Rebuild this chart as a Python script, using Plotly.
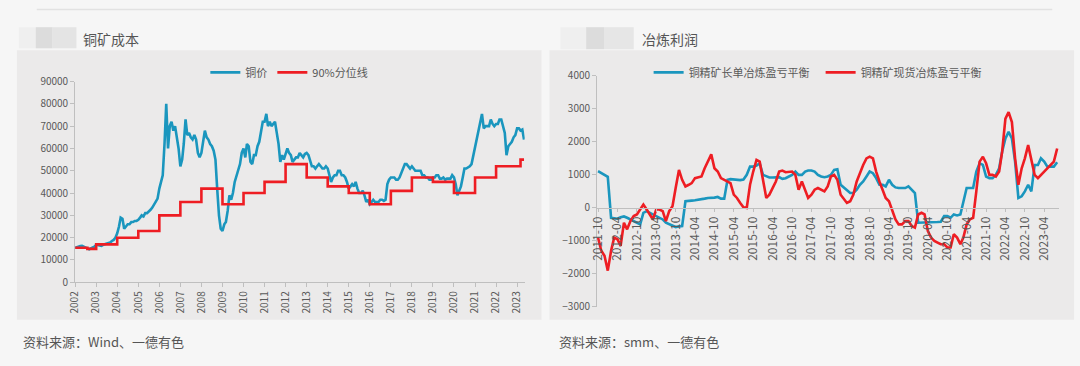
import pandas as pd
import plotly.graph_objects as go

# ---------------- data: left chart (铜矿成本) ----------------
copper_start = "2002-01-01"
copper_price = [
    15500, 15800, 16000, 16200, 16300, 16000, 15800, 15200, 14800, 15200, 15600, 16000,  # 2002
    16800, 16600, 16500, 16300, 16800, 17000, 17200, 17500, 17800, 18500, 19000, 20000,  # 2003
    22000, 25000, 29000, 28500, 24000, 25000, 26000, 26000, 27000, 27000, 27500, 27500,  # 2004
    28000, 29000, 30000, 29500, 31000, 31000, 32000, 32500, 33500, 35000, 36000, 37500,  # 2005
    42000, 46000, 48000, 62000, 80000, 60000, 70000, 72000, 68000, 70000, 65000, 60000,  # 2006
    52000, 55000, 62000, 73000, 66000, 67000, 65000, 64000, 66000, 64000, 58000, 56000,  # 2007
    58000, 63000, 68000, 65000, 64000, 62000, 61000, 59000, 55000, 42000, 30000, 24000,  # 2008
    23000, 26000, 27000, 32000, 39000, 37000, 40000, 45000, 48000, 50000, 53000, 58000,  # 2009
    60000, 56000, 62000, 61000, 54000, 53000, 57000, 57000, 61000, 63000, 67000, 72000,  # 2010
    72000, 75500, 70000, 72000, 70000, 71000, 72000, 67000, 62000, 54000, 57000, 55000,  # 2011
    58000, 60000, 58000, 57000, 54000, 55000, 56000, 56000, 58000, 57000, 56000, 57500,  # 2012
    58000, 57000, 54000, 52000, 52000, 51000, 52000, 53000, 52000, 51000, 51000, 52000,  # 2013
    51000, 48000, 45000, 47000, 48000, 48000, 50000, 50000, 48000, 48000, 47000, 45000,  # 2014
    42000, 43000, 44000, 43000, 45000, 42000, 40000, 40000, 41000, 39000, 36000, 37000,  # 2015
    35000, 36000, 37000, 36000, 36000, 36000, 37000, 37000, 36500, 37000, 44000, 46000,  # 2016
    47000, 47000, 47000, 46000, 46000, 47000, 49000, 51000, 53000, 53000, 52000, 51000,  # 2017
    52000, 51000, 50000, 50000, 50000, 50000, 48000, 48000, 47000, 47000, 46000, 46000,  # 2018
    47000, 47000, 48000, 48000, 46500, 46500, 47000, 46000, 46500, 46500, 46500, 48000,  # 2019
    47000, 44000, 39000, 41000, 43000, 47000, 51000, 51000, 51500, 52000, 53000, 57000,  # 2020
    60000, 65000, 68000, 73000, 75500, 69000, 70000, 70000, 70000, 73000, 71000, 70000,  # 2021
    71000, 71000, 73000, 73000, 70000, 67000, 57000, 61000, 62000, 63000, 65000, 66000,  # 2022
    69000, 69000, 68000, 68500, 64000,                                                   # 2023
]
cost_dates = ["2002-01-01", "2002-08-01", "2003-01-01", "2004-01-01", "2005-01-01", "2006-01-01",
              "2007-01-01", "2008-01-01", "2009-01-01", "2010-01-01", "2011-01-01", "2012-01-01",
              "2013-01-01", "2014-01-01", "2015-01-01", "2016-01-01", "2017-01-01", "2018-01-01",
              "2019-01-01", "2020-01-01", "2021-01-01", "2022-01-01", "2023-03-01", "2023-05-01"]
cost_p90 = [15500, 15000, 17000, 20000, 23000, 30000, 36000, 42000, 35000, 40000, 45000, 53000,
            47000, 43000, 40000, 35000, 41000, 47000, 45000, 40000, 47000, 52000, 55000, 55000]

# ---------------- data: right chart (冶炼利润) ----------------
profit_start = "2011-10-01"
long_term = [
    1110, 1050, 980, 940, -300, -320, -330, -280, -260, -300, -350, -400,
    -450, -500, -150, -100, -150, -200, -250, -300, -350, -450, -500, -550,
    -580, -560, -550, 200, 200, 220, 230, 240, 260, 280, 300, 300,
    310, 330, 280, 280, 850, 870, 860, 850, 840, 860, 1000, 1250,
    1250, 1280, 1350, 1000, 950, 920, 920, 930, 930, 880, 900, 950,
    1000, 1100, 1000, 1000, 1100, 1130, 1130, 1100, 1000, 950, 930, 950,
    1000, 1150, 1170, 700, 620, 520, 450, 450, 550, 700, 800, 950,
    1100, 1050, 900, 700, 700, 650, 850, 700, 620, 600, 600, 600,
    650, 550, 450, -450, -450, -450, -450, -450, -430, -430, -420, -250,
    -250, -300, -200, -230, -200, 200, 600, 600, 600, 1100, 1350, 1300,
    950, 900, 900, 1000, 1200, 1700, 2100, 2300, 2100, 1400, 300, 350,
    500, 700, 500, 1300, 1300, 1500, 1400, 1250, 1250, 1250, 1380,
]
spot = [
    -900, -1300, -1450, -1900, -1300, -900, -950, -1150, -450, -650, -400, -250,
    -200, -50, 100, -50, -200, -350, -50, -50, -100, -400, -100, 50,
    600, 1150, 850, 650, 700, 750, 900, 930, 950, 1200, 1400, 1620,
    1200, 1100, 900, 850, 800, 750, 400, 300, 150, 20, 0, 700,
    1100, 1450, 1400, 900, 300, 400, 600, 800, 1100, 1130, 1080, 1100,
    1100, 1000, 550, 800, 500, 300, 400, 550, 600, 550, 500, 650,
    950, 1000, 850, 400, 250, 150, 200, 400, 800, 1050, 1300, 1500,
    1550, 1500, 1100, 800, 500, 300, 200, -100, -350, -500, -500, -400,
    -400, -550, -600, -200, -150, -200, -700, -900, -1000, -1050, -1100, -1100,
    -1200, -1200, -800, -900, -1100, -900, -500, -350, -300, 500, 1400, 1550,
    1350, 1000, 1000, 950, 1100, 1700, 2700, 2900, 2600, 1500, 700, 1200,
    1500, 1900, 1500, 1000, 900, 1000, 1100, 1200, 1300, 1400, 1800,
]

copper_dates = pd.date_range(copper_start, periods=len(copper_price), freq="MS")
profit_dates = pd.date_range(profit_start, periods=len(long_term), freq="MS")

W, H = 1080, 366
def px(x):
    return x / W
def py(y):
    return 1 - y / H

BLUE = "#1a96be"
RED = "#ee1d23"
TXT = "#595959"
AX = "#bfbfbf"
FONT = "Noto Sans CJK SC, Noto Sans, sans-serif"

fig = go.Figure()
fig.add_trace(go.Scatter(x=copper_dates, y=copper_price, name="铜价", mode="lines",
                         line=dict(color=BLUE, width=2.6), xaxis="x", yaxis="y", legend="legend"))
fig.add_trace(go.Scatter(x=cost_dates, y=cost_p90, name="90%分位线", mode="lines",
                         line=dict(color=RED, width=2.6, shape="hv"), xaxis="x", yaxis="y", legend="legend"))
fig.add_trace(go.Scatter(x=profit_dates, y=long_term, name="铜精矿长单冶炼盈亏平衡", mode="lines",
                         line=dict(color=BLUE, width=2.6), xaxis="x2", yaxis="y2", legend="legend2"))
fig.add_trace(go.Scatter(x=profit_dates, y=spot, name="铜精矿现货冶炼盈亏平衡", mode="lines",
                         line=dict(color=RED, width=2.6), xaxis="x2", yaxis="y2", legend="legend2"))

# y-domain for right chart and position of y=0 within it
r_y0, r_y1 = py(311.7), py(70.7)
zero_pos = r_y0 + (r_y1 - r_y0) * 3 / 7

tickfont = dict(family=FONT, size=10, color=TXT)
tickfont_r = dict(family=FONT, size=12, color=TXT)
legfont = dict(family=FONT, size=11, color=TXT)
fig.update_layout(
    width=W, height=H,
    margin=dict(l=0, r=0, t=0, b=0),
    paper_bgcolor="#f6f6f6",
    plot_bgcolor="rgba(0,0,0,0)",
    font=dict(family=FONT, color=TXT),
    hovermode=False,
    xaxis=dict(domain=[px(66.7), px(520)], type="date", range=["2002-01-01", "2023-05-12"],
               tickformat="%Y", dtick="M12", tick0="2002-01-01", tickangle=-90,
               tickfont=tickfont, showgrid=False, zeroline=False,
               showline=True, linecolor=AX, linewidth=1, ticks="outside", ticklen=4, tickcolor=AX,
               anchor="y", fixedrange=True),
    yaxis=dict(domain=[py(286), py(76.7)], range=[0, 90000], dtick=10000, tickformat="d",
               tickfont=tickfont, showgrid=False, zeroline=False,
               showline=True, linecolor=AX, linewidth=1, ticks="outside", ticklen=4, tickcolor=AX,
               anchor="x", fixedrange=True),
    xaxis2=dict(domain=[px(593), px(1059)], type="date", range=["2011-09-22", "2023-08-20"],
                tickformat="%Y-%m", dtick="M6", tick0="2011-10-01", tickangle=-90,
                tickfont=tickfont_r, showgrid=False, zeroline=False,
                showline=True, linecolor=AX, linewidth=1, ticks="outside", ticklen=3, tickcolor=AX,
                anchor="free", position=zero_pos, fixedrange=True),
    yaxis2=dict(domain=[r_y0, r_y1], range=[-3000, 4000], dtick=1000, tickformat="d",
                tickfont=tickfont, showgrid=False, zeroline=False,
                showline=True, linecolor=AX, linewidth=1, ticks="outside", ticklen=4, tickcolor=AX,
                anchor="x2", fixedrange=True),
    legend=dict(orientation="h", x=px(198), y=py(52), xanchor="left", yanchor="top",
                bgcolor="rgba(0,0,0,0)", font=legfont, itemwidth=30, tracegroupgap=0),
    legend2=dict(orientation="h", x=px(645), y=py(52), xanchor="left", yanchor="top",
                 bgcolor="rgba(0,0,0,0)", font=legfont, itemwidth=30, tracegroupgap=0,
                 entrywidth=127),
    showlegend=True,
)

shapes = [
    # top separator line
    dict(type="line", xref="paper", yref="paper", x0=px(28), x1=px(1052), y0=py(1.5), y1=py(1.5),
         line=dict(color="#e2e2e2", width=1.5), layer="below"),
    # panels
    dict(type="rect", xref="paper", yref="paper", x0=px(8), x1=px(537), y0=py(325), y1=py(44),
         fillcolor="#ebeaea", line=dict(width=0), layer="below"),
    dict(type="rect", xref="paper", yref="paper", x0=px(545), x1=px(1074), y0=py(325), y1=py(44),
         fillcolor="#ebeaea", line=dict(width=0), layer="below"),
    # blurred heading marks
    dict(type="rect", xref="paper", yref="paper", x0=px(10), x1=px(27), y0=py(42), y1=py(20),
         fillcolor="#efefef", line=dict(width=0), layer="below"),
    dict(type="rect", xref="paper", yref="paper", x0=px(27), x1=px(44), y0=py(42), y1=py(20),
         fillcolor="#dcdcdc", line=dict(width=0), layer="below"),
    dict(type="rect", xref="paper", yref="paper", x0=px(44), x1=px(68), y0=py(42), y1=py(20),
         fillcolor="#e4e4e4", line=dict(width=0), layer="below"),
    dict(type="rect", xref="paper", yref="paper", x0=px(556), x1=px(582), y0=py(43), y1=py(20),
         fillcolor="#efefef", line=dict(width=0), layer="below"),
    dict(type="rect", xref="paper", yref="paper", x0=px(582), x1=px(600), y0=py(43), y1=py(20),
         fillcolor="#dcdcdc", line=dict(width=0), layer="below"),
    dict(type="rect", xref="paper", yref="paper", x0=px(600), x1=px(630), y0=py(43), y1=py(20),
         fillcolor="#e6e6e6", line=dict(width=0), layer="below"),
]
fig.update_layout(shapes=shapes)

title_font = dict(family=FONT, size=14, color="#555555")
foot_font = dict(family=FONT, size=13, color="#555555")
annotations = [
    dict(text="铜矿成本", x=px(73), y=py(32), xref="paper", yref="paper", xanchor="left",
         yanchor="middle", showarrow=False, font=title_font),
    dict(text="冶炼利润", x=px(636), y=py(32), xref="paper", yref="paper", xanchor="left",
         yanchor="middle", showarrow=False, font=title_font),
    dict(text="资料来源：Wind、一德有色", x=px(12), y=py(348), xref="paper", yref="paper",
         xanchor="left", yanchor="middle", showarrow=False, font=foot_font),
    dict(text="资料来源：smm、一德有色", x=px(553), y=py(348), xref="paper", yref="paper",
         xanchor="left", yanchor="middle", showarrow=False, font=foot_font),
]
fig.update_layout(annotations=annotations)

fig.write_html(
    "out.html",
    config={"displayModeBar": False, "staticPlot": True},
    post_script="document.body.style.margin='0';document.documentElement.style.overflow='hidden';document.body.style.overflow='hidden';",
)
